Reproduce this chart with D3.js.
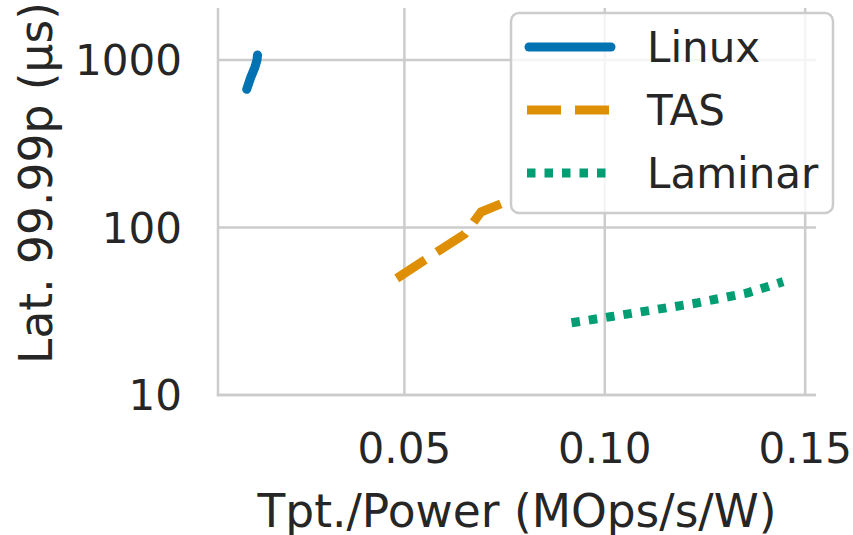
<!DOCTYPE html>
<html>
<head>
<meta charset="utf-8">
<script src="https://cdn.jsdelivr.net/npm/d3@7"></script>
<style>
  html, body { margin: 0; padding: 0; background: #fff; }
  text { font-family: "DejaVu Sans", sans-serif; fill: #262626; }
</style>
</head>
<body>
<div id="chart"></div>
<script>
// series
var linuxX = [0.01066, 0.01161, 0.01273, 0.01323, 0.01336];
var linuxY = [668, 781, 908, 1000, 1071];
var tasX = [0.0481, 0.0589, 0.0651, 0.0691, 0.0746];
var tasY = [49.7, 73.4, 91.5, 123.7, 140];
var laminarX = [0.0917, 0.1013, 0.1229, 0.1354, 0.1395, 0.1445];
var laminarY = [27.0, 29.3, 35.4, 40.6, 43.5, 47.5];

var seriesNames = ["Linux", "TAS", "Laminar"];
var xTicks = [0.05, 0.10, 0.15];
var yTicks = [10, 100, 1000];

var width = 853;
var height = 535;
// plot box (window.top is reserved, so pTop etc.)
var pLeft = 218, pRight = 816, pTop = 8, pBottom = 395;

var colors = ["#0173b2", "#de8f05", "#029e73"];
var dashes = [null, "34,14", "8.5,9"];
var caps = ["round", "butt", "butt"];

var svg = d3.select("#chart").append("svg")
    .attr("width", width)
    .attr("height", height);

var x = d3.scaleLinear().domain([0.0035, 0.1527]).range([pLeft, pRight]);
var y = d3.scaleLog().domain([10, 2044]).range([pBottom, pTop]);

svg.append("defs").append("clipPath")
    .attr("id", "plotclip")
    .append("rect")
    .attr("x", pLeft).attr("y", pTop)
    .attr("width", pRight - pLeft).attr("height", pBottom - pTop);

// grid
svg.append("g").selectAll("line")
    .data(xTicks).enter().append("line")
    .attr("x1", d => x(d)).attr("x2", d => x(d))
    .attr("y1", pTop).attr("y2", pBottom)
    .attr("stroke", "#cccccc").attr("stroke-width", 2.5);
svg.append("g").selectAll("line")
    .data(yTicks).enter().append("line")
    .attr("x1", pLeft).attr("x2", pRight)
    .attr("y1", d => y(d)).attr("y2", d => y(d))
    .attr("stroke", "#cccccc").attr("stroke-width", 2.5);

// spines (left + bottom only)
svg.append("line")
    .attr("x1", pLeft).attr("x2", pLeft).attr("y1", pTop).attr("y2", pBottom + 1.25)
    .attr("stroke", "#cccccc").attr("stroke-width", 2.5);
svg.append("line")
    .attr("x1", pLeft - 1.25).attr("x2", pRight).attr("y1", pBottom).attr("y2", pBottom)
    .attr("stroke", "#cccccc").attr("stroke-width", 2.5);

// tick labels
svg.append("g").selectAll("text")
    .data(xTicks).enter().append("text")
    .attr("x", d => x(d))
    .attr("y", 463)
    .attr("text-anchor", "middle")
    .style("font-size", "42px")
    .text(d => d3.format(".2f")(d));
svg.append("g").selectAll("text")
    .data(yTicks).enter().append("text")
    .attr("x", 182)
    .attr("y", d => y(d) + 15)
    .attr("text-anchor", "end")
    .style("font-size", "42px")
    .text(d => d);

// axis labels
svg.append("text")
    .attr("x", (pLeft + pRight) / 2)
    .attr("y", 527)
    .attr("text-anchor", "middle")
    .style("font-size", "45.5px")
    .text("Tpt./Power (MOps/s/W)");
svg.append("text")
    .attr("transform", "translate(52,183) rotate(-90)")
    .attr("text-anchor", "middle")
    .style("font-size", "45.5px")
    .text("Lat. 99.99p (µs)");

// lines
var series = [
    { xs: linuxX, ys: linuxY },
    { xs: tasX, ys: tasY },
    { xs: laminarX, ys: laminarY }
];
var line = d3.line().x(d => x(d[0])).y(d => y(d[1]));
var plot = svg.append("g").attr("clip-path", "url(#plotclip)");
series.forEach(function (s, i) {
    var pts = s.xs.map((v, j) => [v, s.ys[j]]);
    plot.append("path")
        .attr("d", line(pts))
        .attr("fill", "none")
        .attr("stroke", colors[i])
        .attr("stroke-width", 9)
        .attr("stroke-linecap", caps[i])
        .attr("stroke-linejoin", "round")
        .attr("stroke-dasharray", dashes[i]);
});

// legend
var lg = svg.append("g");
lg.append("rect")
    .attr("x", 511).attr("y", 13)
    .attr("width", 322).attr("height", 200)
    .attr("rx", 8).attr("ry", 8)
    .attr("fill", "rgba(255,255,255,0.8)")
    .attr("stroke", "#cccccc").attr("stroke-width", 2.5);
seriesNames.forEach(function (name, i) {
    var ly = 47 + i * 63;
    lg.append("line")
        .attr("x1", i == 0 ? 529 : 527).attr("x2", i == 0 ? 611 : 613)
        .attr("y1", ly).attr("y2", ly)
        .attr("stroke", colors[i])
        .attr("stroke-width", 9)
        .attr("stroke-linecap", caps[i])
        .attr("stroke-dasharray", dashes[i]);
    lg.append("text")
        .attr("x", 647)
        .attr("y", ly + 15)
        .style("font-size", "42px")
        .text(name);
});
</script>
</body>
</html>
